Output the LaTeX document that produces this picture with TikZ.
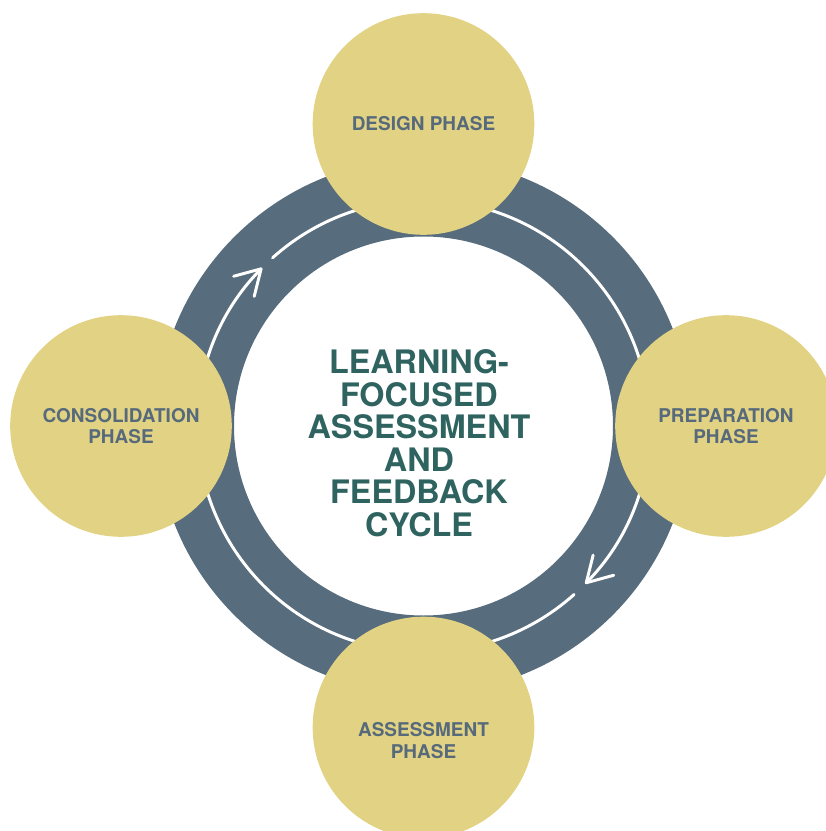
\documentclass[tikz,border=0pt]{standalone}
\usepackage{fontspec}
\setmainfont{TeX Gyre Heros}
\usetikzlibrary{arrows.meta}
\definecolor{phaseyellow}{HTML}{E2D283}
\definecolor{ringslate}{HTML}{576C7D}
\definecolor{labelslate}{HTML}{566A7B}
\definecolor{titleteal}{HTML}{2F635F}

\begin{document}
\begin{tikzpicture}[x=0.025cm, y=0.025cm,
  phase/.style={circle, fill=phaseyellow, minimum size=5.54cm, inner sep=0pt},
  phasetext/.style={text=labelslate, align=center,
    font=\fontsize{13.5}{15.4}\selectfont\bfseries},
  title/.style={text=titleteal, align=center,
    font=\fontsize{23}{23.1}\selectfont\bfseries},
  flow/.style={white, line width=2.1pt, line cap=round,
    -{Straight Barb[length=17.5pt, width=20.5pt, round]}}]
\useasboundingbox (-423.5,-405) rectangle (402.5,426);
\coordinate (hub) at (0,0);
% ring
\fill[ringslate, even odd rule] (hub) circle[radius=267.5] circle[radius=189.5];
% flow lines
\coordinate (flowA) at (131.9:226);
\coordinate (flowB) at (-48.2:226);
\draw[flow] (flowA) arc[start angle=131.9, end angle=-44.3, radius=226];
\draw[flow] (flowB) arc[start angle=-48.2, end angle=-224.45, radius=226];
% phases
\node[phase, label={[phasetext]center:DESIGN PHASE}] (design) at (90:302) {};
\node[phase, label={[phasetext]center:PREPARATION\\PHASE}] (preparation) at (0:302.5) {};
\node[phase, label={[phasetext, yshift=-0.32cm]center:ASSESSMENT\\PHASE}] (assessment) at (-90:301.5) {};
\node[phase, label={[phasetext]center:CONSOLIDATION\\PHASE}] (consolidation) at (180:302.5) {};
% centre
\node[title] (cycle) at (-4.5,-17) {LEARNING-\\FOCUSED\\ASSESSMENT\\AND\\FEEDBACK\\CYCLE};
\end{tikzpicture}
\end{document}
